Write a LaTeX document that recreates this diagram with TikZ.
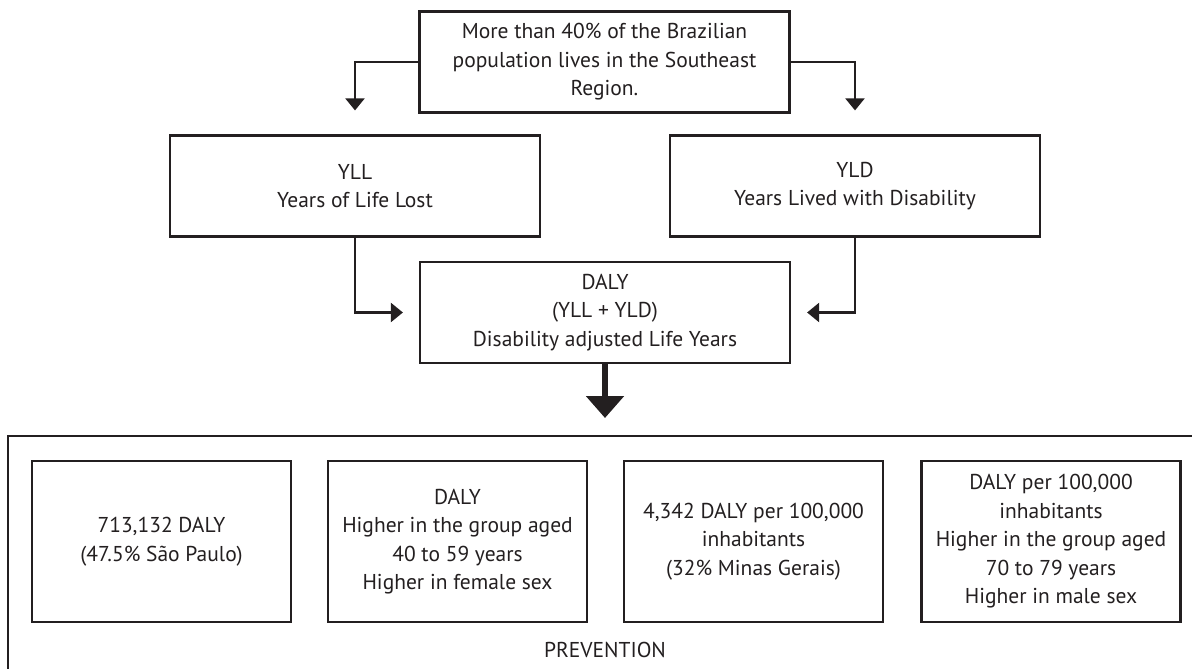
\documentclass[tikz,border=0pt]{standalone}
\usepackage{fontspec}
\setmainfont{PT Sans}
\usetikzlibrary{arrows.meta}
\definecolor{ink}{HTML}{231F20}
\begin{document}
\begin{tikzpicture}[x=1pt, y=-1pt,
    box/.style={draw=ink, line width=2.2pt, text=ink, align=center, inner sep=0pt,
      font=\fontsize{21.5}{28.5}\selectfont},
    wide/.style={box, minimum width=370pt, minimum height=101pt},
    small/.style={box, minimum width=259pt, minimum height=161pt},
    arr/.style={draw=ink, line width=2.2pt, -{Triangle[width=19pt,length=12pt]}},
    bigarr/.style={draw=ink, line width=5.5pt, -{Triangle[width=37pt,length=22pt]}}]
            \clip (0,0) rectangle (1192,669);

            \node (pop) at (604.5, 62) [wide] {More than 40\% of the Brazilian\\population lives in the Southeast\\Region.};
            \node (yll) at (355, 186) [wide] {YLL\\Years of Life Lost};
            \node (yld) at (855, 186) [wide] {YLD\\Years Lived with Disability};
            \node (daly) at (605, 312.5) [wide] {DALY\\(YLL + YLD)\\Disability adjusted Life Years};

            \draw[ink, line width=2.2pt] (8, 436) rectangle (1260, 720);
            \coordinate (tip) at (605, 418);

            \node (r1) at (161.5, 541.5) [small] {713,132 DALY\\(47.5\% São Paulo)};
            \node (r2) at (457.5, 541.5) [small] {DALY\\Higher in the group aged\\40 to 59 years\\Higher in female sex};
            \node (r3) at (753.5, 541.5) [small] {4,342 DALY per 100,000\\inhabitants\\(32\% Minas Gerais)};
            \node (r4) at (1051, 541.5) [small] {DALY per 100,000\\inhabitants\\Higher in the group aged\\70 to 79 years\\Higher in male sex};
            \node (prev) at (605, 650) [text=ink, font=\fontsize{21.5}{28.5}\selectfont] {PREVENTION};

            \draw[arr] (pop.west) -| ([yshift=24pt]yll.north);
            \draw[arr] (pop.east) -| ([yshift=24pt]yld.north);
            \draw[arr] (yll.south) |- ([xshift=-16pt]daly.west);
            \draw[arr] (yld.south) |- ([xshift=16pt]daly.east);
            \draw[bigarr] (daly.south) -- (tip);

        \end{tikzpicture}
\end{document}
